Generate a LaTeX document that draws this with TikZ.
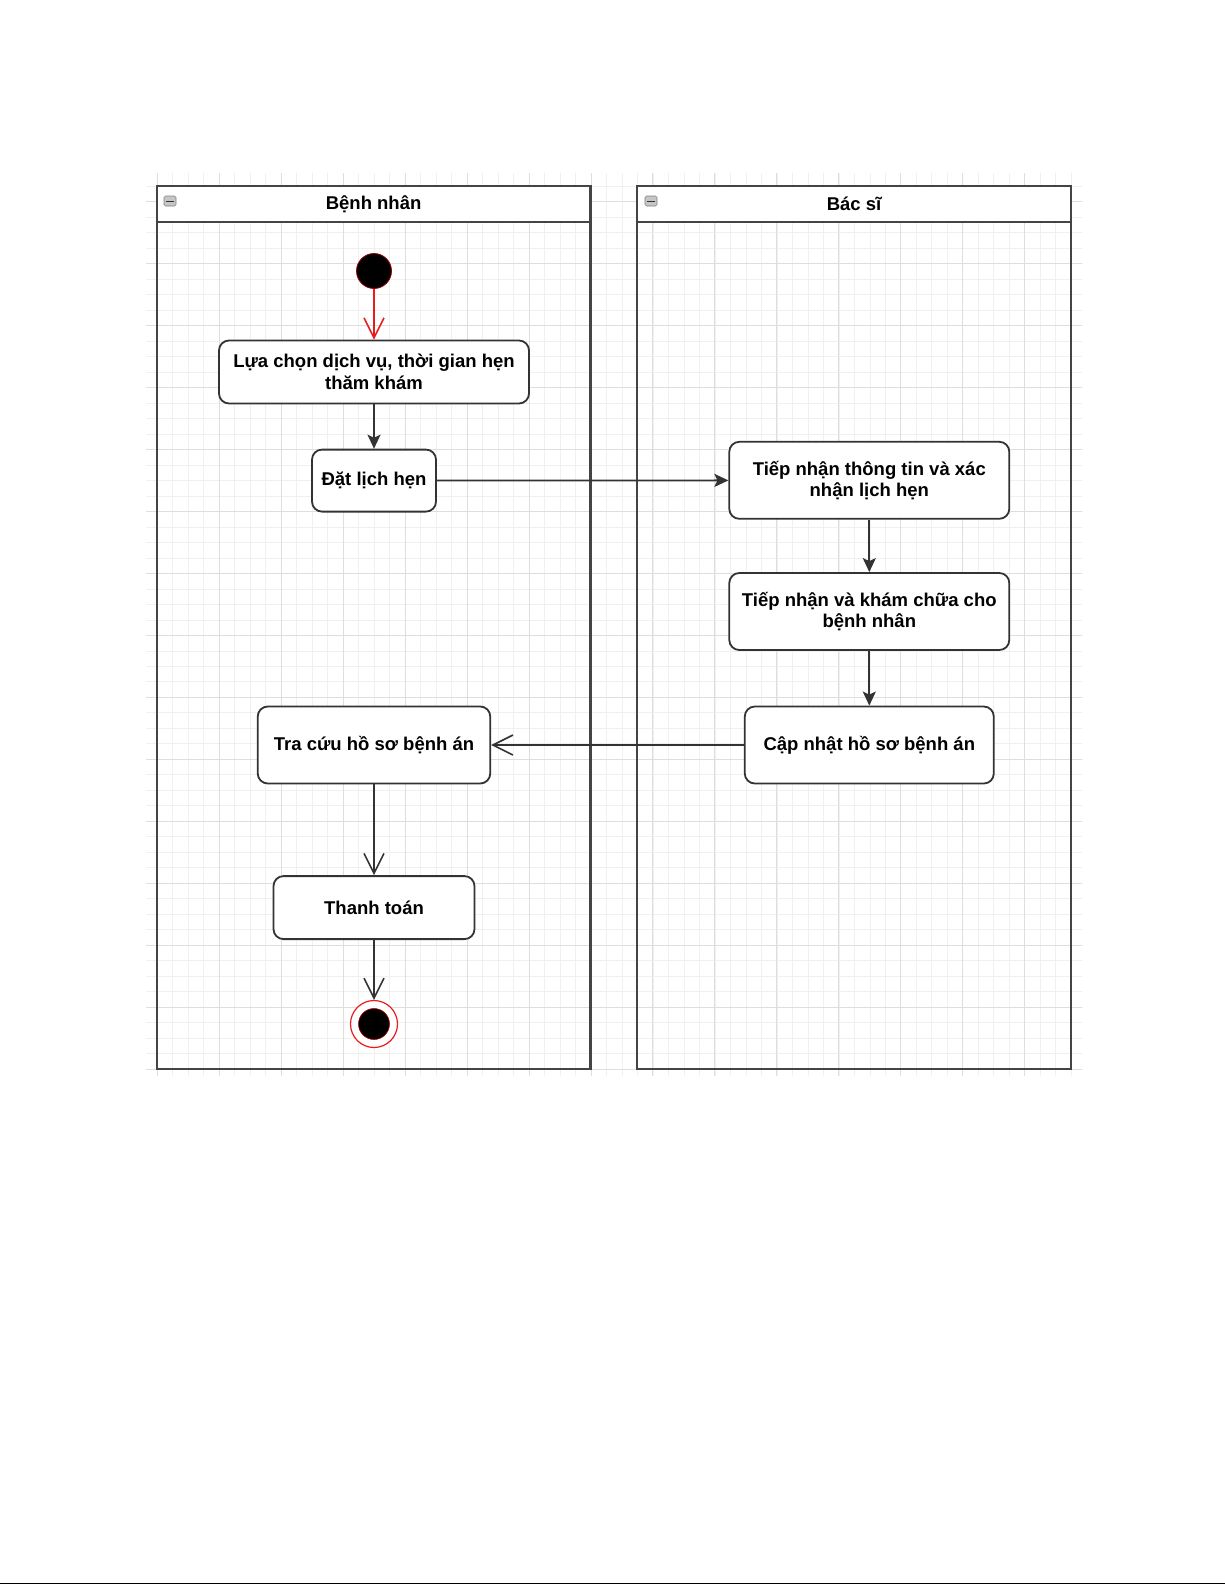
\documentclass[tikz,border=0pt]{standalone}
\usepackage{fontspec}
\setmainfont{Liberation Sans}
\usetikzlibrary{arrows.meta}

\definecolor{linegray}{HTML}{333333}
\definecolor{poolgray}{HTML}{444444}
\definecolor{gridminor}{HTML}{F0F0F0}
\definecolor{gridmajor}{HTML}{DEDEDE}
\definecolor{startred}{HTML}{E81C1C}

\begin{document}
\begin{tikzpicture}[x=1pt,y=-1pt,
	act/.style={draw=linegray, line width=1.8pt, rounded corners=10pt, fill=white, align=center,
		font=\bfseries\fontsize{18.5}{21.5}\selectfont, inner sep=0pt},
	lanehead/.style={font=\bfseries\fontsize{18.5}{21.5}\selectfont, inner sep=0pt},
	flow/.style={draw=linegray, line width=1.8pt, -{Stealth[length=14pt,width=13pt,inset=3pt]}},
	openflow/.style={draw=linegray, line width=1.6pt, -{Straight Barb[length=20pt,width=20pt]}},
	pool/.style={draw=poolgray, line width=2.2pt},
	minusicon/.style={draw=gray, fill=gray!45, rounded corners=1.5pt, line width=0.6pt}
	]

	\useasboundingbox (0,0) rectangle (1225,1585);

	%%GRID---------------------------------------------
	\begin{scope}
		\clip (146,173) rectangle (1082,1075);
		\begin{scope}[shift={(157.35,186.2)}]
			\draw [gridminor, line width=0.8pt, step=15.49pt] (-15.49,-15.49) grid (940,900);
		\end{scope}
		\begin{scope}[shift={(157.35,201.7)}]
			\draw [gridmajor, line width=1pt, step=61.95pt] (-61.95,-61.95) grid (940,900);
		\end{scope}
	\end{scope}

	%%POOLS---------------------------------------------
	%Benh nhan
	\fill [white] (156.7,186) rectangle (590.5,221.7);
	\draw [pool] (156.7,186) rectangle (590.5,1069.3);
	\draw [pool] (156.7,221.7) -- (590.5,221.7);
	\node [lanehead] (laneA) at (373.6,204) {Bệnh nhân};
	\draw [minusicon] (164,196) rectangle (176,206);
	\draw [linegray, line width=1pt] (166,201) -- (174,201);

	%Bac si
	\fill [white] (637.3,186) rectangle (1070.7,221.7);
	\draw [pool] (637.3,186) rectangle (1070.7,1069.3);
	\draw [pool] (637.3,221.7) -- (1070.7,221.7);
	\node [lanehead] (laneB) at (854,204) {Bác sĩ};
	\draw [minusicon] (645,196) rectangle (657,206);
	\draw [linegray, line width=1pt] (647,201) -- (655,201);

	%%NODES---------------------------------------------
	\node [circle, fill=black, draw=red!60!black, line width=0.8pt, minimum size=35pt, inner sep=0pt] (start) at (374,271) {};

	\node [act, minimum width=310pt, minimum height=63pt] (choose) at (374,372) {Lựa chọn dịch vụ, thời gian hẹn\\thăm khám};
	\node [act, minimum width=124pt, minimum height=62pt] (book) at (374,480.6) {Đặt lịch hẹn};
	\node [act, minimum width=280pt, minimum height=77pt] (confirm) at (869.3,480.3) {Tiếp nhận thông tin và xác\\nhận lịch hẹn};
	\node [act, minimum width=280pt, minimum height=77pt] (treat) at (869.3,611.5) {Tiếp nhận và khám chữa cho\\bệnh nhân};
	\node [act, minimum width=249pt, minimum height=77pt] (update) at (869.3,745) {Cập nhật hồ sơ bệnh án};
	\node [act, minimum width=232.5pt, minimum height=77pt] (lookup) at (374,745) {Tra cứu hồ sơ bệnh án};
	\node [act, minimum width=201pt, minimum height=63pt] (pay) at (374,907.6) {Thanh toán};

	%end state
	\node [circle, fill=white, draw=startred, line width=1.2pt, minimum size=47pt, inner sep=0pt] (finish) at (374,1024) {};
	\node [circle, fill=black, draw=red!70!black, line width=0.6pt, minimum size=31pt, inner sep=0pt] at (finish) {};

	%%CONNECTORS---------------------------------------------
	\draw [openflow, draw=startred] (start) -- (choose);
	\draw [flow] (choose) -- (book);
	\draw [flow] (book) -- (confirm);
	\draw [flow] (confirm) -- (treat);
	\draw [flow] (treat) -- (update);
	\draw [openflow] (update) -- (lookup);
	\draw [openflow] (lookup) -- (pay);
	\draw [openflow] (pay) -- (finish);

	%%page foot line
	\draw [black, line width=1.5pt] (0,1583.7) -- (1225,1583.7);

\end{tikzpicture}
\end{document}
